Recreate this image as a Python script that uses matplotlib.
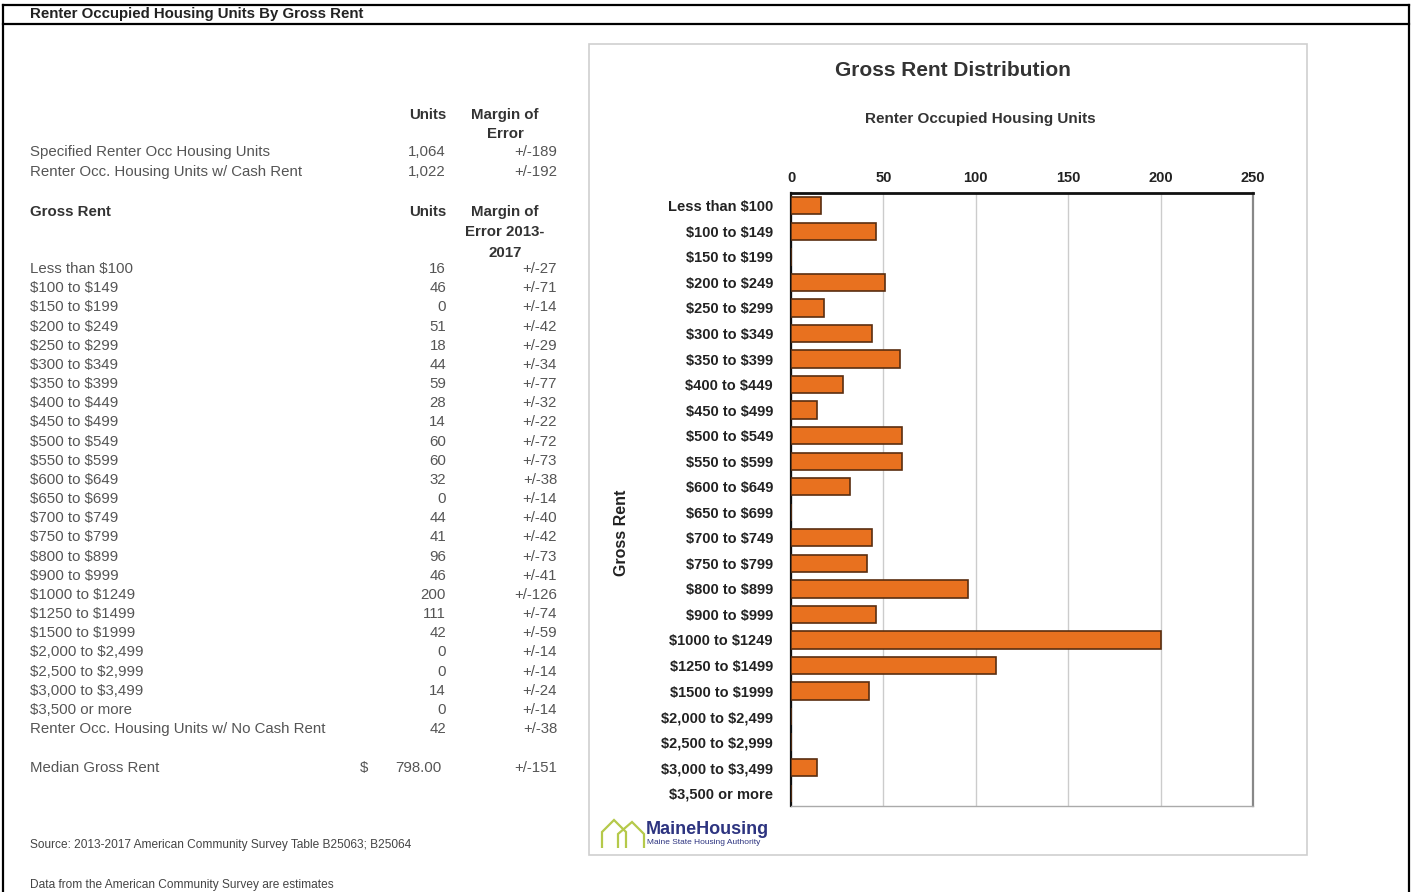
import matplotlib
matplotlib.use("Agg")
import matplotlib.pyplot as plt
from matplotlib.patches import Rectangle, Polygon
from matplotlib.lines import Line2D

plt.rcParams["text.parse_math"] = False

# ---------------- data ----------------
categories = ["Less than $100", "$100 to $149", "$150 to $199", "$200 to $249",
              "$250 to $299", "$300 to $349", "$350 to $399", "$400 to $449",
              "$450 to $499", "$500 to $549", "$550 to $599", "$600 to $649",
              "$650 to $699", "$700 to $749", "$750 to $799", "$800 to $899",
              "$900 to $999", "$1000 to $1249", "$1250 to $1499", "$1500 to $1999",
              "$2,000 to $2,499", "$2,500 to $2,999", "$3,000 to $3,499", "$3,500 or more"]
units = [16, 46, 0, 51, 18, 44, 59, 28, 14, 60, 60, 32, 0, 44, 41, 96, 46, 200, 111, 42,
         0, 0, 14, 0]
moe = [27, 71, 14, 42, 29, 34, 77, 32, 22, 72, 73, 38, 14, 40, 42, 73, 41, 126, 74, 59,
       14, 14, 24, 14]
summary_labels = ["Specified Renter Occ Housing Units", "Renter Occ. Housing Units w/ Cash Rent"]
summary_units = ["1,064", "1,022"]
summary_moe = [189, 192]
no_cash_label = "Renter Occ. Housing Units w/ No Cash Rent"
no_cash_units = 42
no_cash_moe = 38
median_rent = 798.00
median_moe = 151
x_ticks = [0, 50, 100, 150, 200, 250]

# ---------------- figure ----------------
W, H = 1413, 892
fig = plt.figure(figsize=(W / 100, H / 100), dpi=100)
fig.patch.set_facecolor("white")

SANS = ["Liberation Sans", "DejaVu Sans"]
NARROW = ["Liberation Sans Narrow", "Liberation Sans", "DejaVu Sans"]


def P(x, y):
    return x / W, 1 - y / H


def txt(x, y, s, **kw):
    kw.setdefault("family", SANS)
    kw.setdefault("va", "center")
    fig.text(*P(x, y), s, **kw)


def hline(x0, x1, y, **kw):
    fig.add_artist(Line2D([x0 / W, x1 / W], [1 - y / H, 1 - y / H], transform=fig.transFigure, **kw))


def vline(x, y0, y1, **kw):
    fig.add_artist(Line2D([x / W, x / W], [1 - y0 / H, 1 - y1 / H], transform=fig.transFigure, **kw))


# outer frame
hline(3, 1409, 5, color="black", lw=1.6)
hline(3, 1409, 24, color="black", lw=1.6)
vline(3, 5, 892, color="black", lw=1.6)
vline(1409, 5, 892, color="black", lw=1.6)
txt(30, 14, "Renter Occupied Housing Units By Gross Rent", fontsize=10.8, fontweight="bold",
    color="#222222", family=NARROW)

# ---------------- left table ----------------
TC = "#555555"
HC = "#333333"
FS = 10.8
x_lab, x_units, x_moe, x_moe_c = 30, 446, 557, 505

txt(x_units, 115, "Units", ha="right", fontsize=FS, fontweight="bold", color=HC)
txt(x_moe_c, 115, "Margin of", ha="center", fontsize=FS, fontweight="bold", color=HC)
txt(x_moe_c, 134, "Error", ha="center", fontsize=FS, fontweight="bold", color=HC)
for i, (lab, u, m) in enumerate(zip(summary_labels, summary_units, summary_moe)):
    y = 152 + 20 * i
    txt(x_lab, y, lab, fontsize=FS, color=TC)
    txt(x_units, y, u, ha="right", fontsize=FS, color=TC)
    txt(x_moe, y, f"+/-{m}", ha="right", fontsize=FS, color=TC)

txt(x_lab, 212, "Gross Rent", fontsize=FS, fontweight="bold", color=HC)
txt(x_units, 212, "Units", ha="right", fontsize=FS, fontweight="bold", color=HC)
txt(x_moe_c, 212, "Margin of", ha="center", fontsize=FS, fontweight="bold", color=HC)
txt(x_moe_c, 232, "Error 2013-", ha="center", fontsize=FS, fontweight="bold", color=HC)
txt(x_moe_c, 253, "2017", ha="center", fontsize=FS, fontweight="bold", color=HC)

row_h = (710 - 269) / 23
for i, (lab, u, m) in enumerate(zip(categories, units, moe)):
    y = 269 + row_h * i
    txt(x_lab, y, lab, fontsize=FS, color=TC)
    txt(x_units, y, str(u), ha="right", fontsize=FS, color=TC)
    txt(x_moe, y, f"+/-{m}", ha="right", fontsize=FS, color=TC)
y = 269 + row_h * 24
txt(x_lab, y, no_cash_label, fontsize=FS, color=TC)
txt(x_units, y, str(no_cash_units), ha="right", fontsize=FS, color=TC)
txt(x_moe, y, f"+/-{no_cash_moe}", ha="right", fontsize=FS, color=TC)

txt(x_lab, 768, "Median Gross Rent", fontsize=FS, color=TC)
txt(360, 768, "$", fontsize=FS, color=TC)
txt(441, 768, f"{median_rent:.2f}", ha="right", fontsize=FS, color=TC)
txt(x_moe, 768, f"+/-{median_moe}", ha="right", fontsize=FS, color=TC)

txt(x_lab, 845, "Source: 2013-2017 American Community Survey Table B25063; B25064",
    fontsize=8.6, color="#444444")
txt(x_lab, 885, "Data from the American Community Survey are estimates",
    fontsize=8.6, color="#444444")

# ---------------- chart panel ----------------
fig.add_artist(Rectangle((589 / W, 1 - 855 / H), (1307 - 589) / W, (855 - 44) / H,
                         transform=fig.transFigure, fill=False, edgecolor="#cfcfcf", lw=1.2))
txt(953, 70, "Gross Rent Distribution", ha="center", fontsize=15, fontweight="bold",
    color="#333333", family=NARROW)
txt(980, 119, "Renter Occupied Housing Units", ha="center", fontsize=11, fontweight="bold",
    color="#333333", family=NARROW)

ax_l, ax_r, ax_t, ax_b = 791, 1253, 193, 806
ax = fig.add_axes([ax_l / W, 1 - ax_b / H, (ax_r - ax_l) / W, (ax_b - ax_t) / H])
ypos = list(range(len(categories)))
ax.barh(ypos, units, height=0.68, color="#E8711F", edgecolor="#5a2e10", linewidth=1.2, zorder=3)
ax.set_ylim(len(categories) - 0.5, -0.5)
ax.set_xlim(x_ticks[0], x_ticks[-1])
ax.set_xticks(x_ticks)
ax.xaxis.tick_top()
ax.tick_params(axis="x", length=0, pad=6, labelsize=10.5, colors="#222222")
for lbl in ax.get_xticklabels():
    lbl.set_fontweight("bold")
    lbl.set_family(NARROW)
ax.set_yticks(ypos)
ax.set_yticklabels(categories, fontsize=10.5, fontweight="bold", color="#222222", family=NARROW)
ax.tick_params(axis="y", length=0, pad=13)
ax.grid(axis="x", color="#cccccc", lw=1.0, zorder=0)
ax.set_axisbelow(True)
ax.spines["top"].set_linewidth(2.0)
ax.spines["top"].set_color("#111111")
ax.spines["left"].set_linewidth(1.6)
ax.spines["left"].set_color("#111111")
ax.spines["right"].set_linewidth(1.6)
ax.spines["right"].set_color("#888888")
ax.spines["bottom"].set_linewidth(1.0)
ax.spines["bottom"].set_color("#aaaaaa")
txt(622, 533, "Gross Rent", rotation=90, ha="center", fontsize=11.5, fontweight="bold",
    color="#222222", family=NARROW)

# ---------------- logo ----------------
green = "#b5c94a"
house1 = [(602, 848), (602, 832), (614, 820), (626, 832), (626, 848)]
house2 = [(618, 848), (618, 834), (632, 822), (644, 834), (644, 848)]
for poly in (house1, house2):
    fig.add_artist(Polygon([P(x, y) for x, y in poly], closed=False, fill=False,
                           edgecolor=green, lw=1.6, transform=fig.transFigure))
txt(646, 829, "MaineHousing", fontsize=13, fontweight="bold", color="#2d3480")
txt(647, 843, "Maine State Housing Authority", fontsize=6, color="#2d3480")

fig.savefig("out.png", dpi=100, facecolor="white")
